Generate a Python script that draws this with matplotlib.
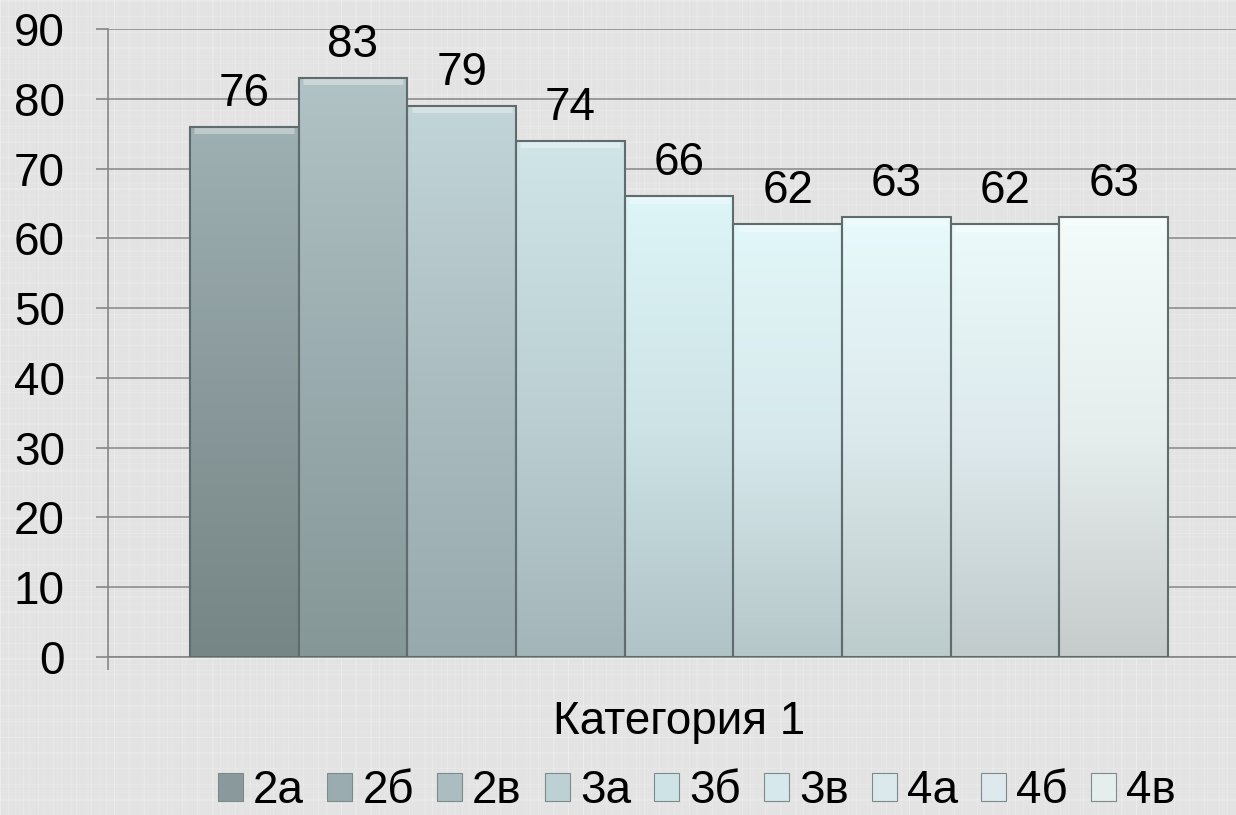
import numpy as np
import matplotlib
matplotlib.use("Agg")
import matplotlib.pyplot as plt
from matplotlib.colors import to_rgb
from matplotlib.patches import Patch

# Data
category = "Категория 1"
series_names = ["2а", "2б", "2в", "3а", "3б", "3в", "4а", "4б", "4в"]
values = [76, 83, 79, 74, 66, 62, 63, 62, 63]

# Gradient colours for each bar (top -> bottom)
top_colors = ["#9fb0b2", "#b2c3c5", "#c2d5d8", "#cfe5e8", "#def5f8",
              "#e2f7f9", "#e8fafb", "#ecfafb", "#f4fbfb"]
mid_colors = ["#8a9a9c", "#9aacaf", "#abbdc0", "#bdd1d4", "#cde3e6",
              "#d6e8eb", "#dce9ec", "#dde9ec", "#e6eded"]
bottom_colors = ["#768686", "#869797", "#97a9ac", "#a3b5b8", "#b0c3c6",
                 "#b5c7c9", "#bccbcb", "#c1cbcc", "#c6cbcc"]

plt.rcParams["font.family"] = ["Liberation Sans", "DejaVu Sans"]
FS = 33

fig = plt.figure(figsize=(12.36, 8.15), dpi=100)
fig.patch.set_facecolor("#e4e4e4")

# faint plaid texture of the slide background, on its own axes behind everything
bg_ax = fig.add_axes([0, 0, 1, 1], zorder=-1)
H, W = 815, 1236
cols = np.arange(W)
rows = np.arange(H)
vstripe = ((cols * 7) % 53 < 4).astype(float) + ((cols * 5) % 71 < 5).astype(float) * 0.6
hstripe = ((rows * 3) % 47 < 4).astype(float) + ((rows * 11) % 67 < 4).astype(float) * 0.6
bg = 0.89 + 0.018 * vstripe[None, :] + 0.014 * hstripe[:, None]
bg_ax.imshow(np.clip(bg, 0, 1), cmap="gray", vmin=0, vmax=1, aspect="auto",
             interpolation="nearest")
bg_ax.axis("off")

ax = fig.add_axes([108 / 1236, 1 - 657 / 815, 1142 / 1236, 628 / 815], zorder=1)
ax.set_facecolor("none")

x = np.arange(len(values))
bars = ax.bar(x, values, width=1.0, color="none", edgecolor="#5f6b6c",
              linewidth=1.5, zorder=3)

# fill each bar with a vertical gradient
for bar, c_top, c_mid, c_bot in zip(bars, top_colors, mid_colors, bottom_colors):
    t = np.linspace(0, 1, 200)[:, None]
    ct, cm, cb = np.array(to_rgb(c_top)), np.array(to_rgb(c_mid)), np.array(to_rgb(c_bot))
    grad = np.where(t < 0.5, ct + (cm - ct) * (t / 0.5), cm + (cb - cm) * ((t - 0.5) / 0.5))
    grad = grad[:, None, :]
    x0, y0 = bar.get_x(), bar.get_y()
    w, h = bar.get_width(), bar.get_height()
    im = ax.imshow(grad, extent=[x0, x0 + w, y0, y0 + h], aspect="auto",
                   origin="upper", zorder=2)
    im.set_clip_path(bar)
    # soft bevel highlight just under the top edge
    ax.plot([x0 + 0.04, x0 + w - 0.04], [y0 + h - 0.45, y0 + h - 0.45],
            color="white", alpha=0.35, linewidth=5, zorder=2.5,
            solid_capstyle="butt")

ax.bar_label(bars, labels=[str(v) for v in values], padding=8, fontsize=FS,
             color="black")

ax.set_xlim(-1.254, 9.254)
ax.set_ylim(0, 90)
ax.set_yticks(range(0, 91, 10))
ax.tick_params(axis="y", labelsize=FS, length=9, width=1.2, color="#868686",
               pad=22)
ax.set_xticks([4])
ax.set_xticklabels([category], fontsize=FS)
ax.tick_params(axis="x", length=0, pad=31)
ax.set_xticks([-1.254, 9.254], minor=True)
ax.tick_params(axis="x", which="minor", length=9, width=1.2, color="#868686")

ax.grid(axis="y", color="#878787", linewidth=1.1, zorder=0)
ax.set_axisbelow(True)
for s in ["top", "right"]:
    ax.spines[s].set_visible(False)
for s in ["left", "bottom"]:
    ax.spines[s].set_color("#868686")
    ax.spines[s].set_linewidth(1.2)

handles = [Patch(facecolor=c, edgecolor="#7d8a8a", linewidth=0.8)
           for c in mid_colors]
fig.legend(handles, series_names, loc="lower center", ncol=9,
           bbox_to_anchor=(697 / 1236, -0.02), frameon=False, fontsize=FS,
           handlelength=0.55, handleheight=0.55, handletextpad=0.22,
           columnspacing=0.5, borderaxespad=0)

plt.savefig("out.png", dpi=100, facecolor=fig.get_facecolor())
